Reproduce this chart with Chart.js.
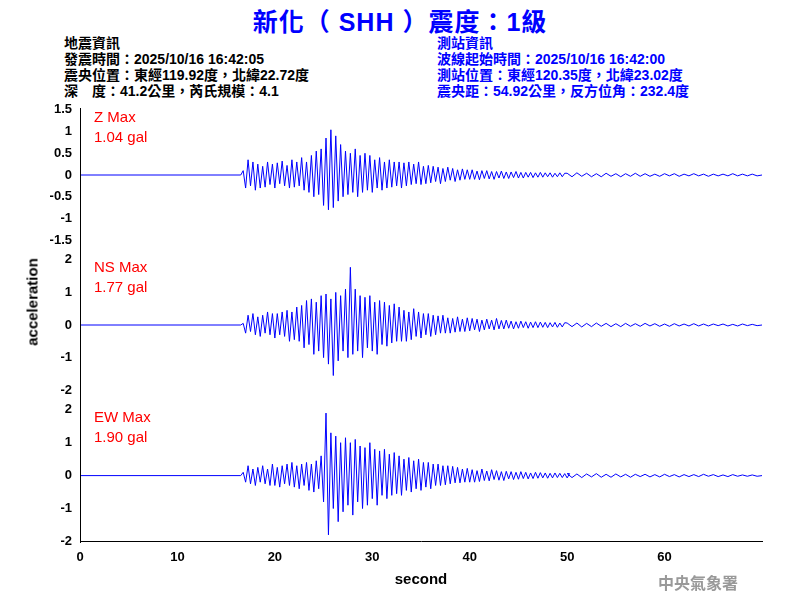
<!DOCTYPE html>
<html><head><meta charset="utf-8">
<script src="https://cdn.jsdelivr.net/npm/chart.js@4"></script>
<style>
body{margin:0;width:800px;height:600px;background:#fff;position:relative;overflow:hidden;font-family:"Liberation Sans",Arial,sans-serif}
.t{position:absolute;white-space:nowrap}
canvas{position:absolute;left:0}
.hd{font-family:"Liberation Sans","Noto Sans CJK TC",sans-serif;font-weight:bold;font-size:14px;line-height:16px}
.red{color:#f00;font-size:15px;line-height:20px}
</style></head><body>
<div class="t" style="left:0;width:800px;text-align:center;top:2px;color:#00f;font-weight:bold;font-size:25px;letter-spacing:1px;font-family:'Liberation Sans','Noto Sans CJK TC',sans-serif">新化（ SHH ）震度：1級</div>
<div class="t hd" style="left:64px;top:35px">地震資訊<br>發震時間：2025/10/16 16:42:05<br>震央位置：東經119.92度，北緯22.72度<br>深　度：41.2公里，芮氏規模：4.1</div>
<div class="t hd" style="left:437px;top:35px;color:#00f">測站資訊<br>波線起始時間：2025/10/16 16:42:00<br>測站位置：東經120.35度，北緯23.02度<br>震央距：54.92公里，反方位角：232.4度</div>
<canvas id="c1" width="800" height="150" style="top:100px"></canvas>
<canvas id="c2" width="800" height="150" style="top:250px"></canvas>
<canvas id="c3" width="800" height="200" style="top:400px"></canvas>
<div class="t" style="left:80px;top:108px;width:1px;height:435px;background:#000"></div>
<div class="t red" style="left:94px;top:107px">Z Max<br>1.04 gal</div>
<div class="t red" style="left:94px;top:257px">NS Max<br>1.77 gal</div>
<div class="t red" style="left:94px;top:407px">EW Max<br>1.90 gal</div>
<div class="t" style="left:32px;top:302px;transform:translate(-50%,-50%) rotate(-90deg);font-weight:bold;font-size:15px">acceleration</div>
<div class="t" style="left:658px;top:570px;color:#999;font-weight:bold;font-size:16px;font-family:'Noto Sans CJK TC',serif">中央氣象署</div>
<script>
const t0=16.75, dt=0.25, tailStart=50, tailDt=0.5;
const zDense=[0.1,-0.3,0.35,-0.25,0.3,-0.35,0.25,-0.3,0.2,-0.28,0.3,-0.22,0.25,
-0.3,0.28,-0.2,0.32,-0.25,0.22,-0.3,0.35,-0.28,0.3,-0.25,0.4,-0.35,0.3,-0.4,0.45,-0.5,0.55,-0.45,0.6,
-0.7,0.85,-0.8,1.04,-0.75,0.9,-0.6,0.7,
-0.5,0.55,-0.45,0.5,-0.4,0.6,-0.5,0.45,-0.4,0.5,-0.35,0.45,-0.4,0.35,-0.3,0.4,-0.35,0.3,-0.3,0.35,-0.28,0.3,-0.25,0.3,
-0.3,0.28,-0.25,0.3,-0.22,0.25,-0.2,0.3,-0.22,0.2,-0.2,0.22,-0.18,0.2,-0.15,0.18,-0.2,0.15,-0.15,0.18,-0.12,0.15,-0.15,0.12,-0.12,0.14,-0.1,0.12,
-0.1,0.12,-0.1,0.09,-0.11,0.1,-0.08,0.1,-0.09,0.08,-0.1,0.08,-0.07,0.09,-0.08,0.07,-0.08,0.07,-0.06,0.08,-0.07,0.06,-0.07,0.06,-0.05,0.06,-0.06,0.05,-0.05,0.06,-0.05,0.05,-0.04,0.05,-0.05,0.04,-0.04,0.05,-0.04,0.04];
const zTail=[0.04,-0.04,0.05,-0.03,0.04,-0.04,0.03,-0.04,0.04,-0.03,0.03,-0.04,0.03,-0.03,0.04,-0.03,0.03,-0.03,0.02,-0.03,0.03,-0.02,0.03,-0.03,0.02,-0.02,0.03,-0.02,0.02,-0.03,0.02,-0.02,0.02,-0.02,0.03,-0.02,0.02,-0.02,0.02,-0.02];
const nsDense=[0.05,-0.25,0.3,-0.2,0.35,-0.3,0.25,-0.35,0.3,-0.25,0.4,-0.3,0.35,
-0.4,0.35,-0.3,0.4,-0.35,0.45,-0.5,0.4,-0.45,0.55,-0.5,0.6,-0.7,0.75,-0.6,0.8,-0.9,0.7,-0.8,0.9,
-1.0,0.95,-1.2,0.8,-1.55,1.0,-1.1,0.9,-0.8,1.1,-1.0,1.77,
-0.9,1.1,-0.8,0.9,-1.0,0.85,-0.7,0.9,-0.8,0.7,-0.9,0.75,-0.6,0.7,-0.65,0.6,-0.55,0.65,-0.5,0.55,
-0.5,0.45,-0.5,0.4,-0.45,0.5,-0.35,0.4,-0.4,0.35,-0.3,0.35,-0.35,0.3,-0.3,0.28,-0.25,0.3,-0.25,0.22,-0.25,0.2,-0.22,0.25,-0.2,0.18,-0.2,0.22,
-0.18,0.2,-0.15,0.18,-0.2,0.15,-0.15,0.18,-0.12,0.15,-0.15,0.2,-0.12,0.14,-0.12,0.15,-0.1,0.12,-0.12,0.1,-0.1,0.12,-0.08,0.1,-0.1,0.09,-0.08,0.1,-0.08,0.09,-0.07,0.08,-0.08,0.07,-0.06,0.08,-0.07,0.06,-0.06,0.07];
const nsTail=[0.06,-0.05,0.06,-0.06,0.05,-0.05,0.06,-0.04,0.05,-0.05,0.04,-0.05,0.05,-0.04,0.04,-0.04,0.05,-0.03,0.04,-0.04,0.03,-0.04,0.04,-0.03,0.03,-0.03,0.04,-0.03,0.03,-0.03,0.03,-0.02,0.03,-0.03,0.02,-0.03,0.03,-0.02,0.02,-0.02];
const ewDense=[0.1,-0.2,0.3,-0.25,0.2,-0.3,0.25,-0.2,0.3,-0.25,0.2,-0.3,0.35,
-0.3,0.25,-0.35,0.3,-0.25,0.35,-0.3,0.4,-0.35,0.3,-0.4,0.35,-0.3,0.4,-0.45,0.35,-0.5,0.45,-0.4,0.6,
-0.8,1.9,-1.8,1.3,-1.0,1.2,-1.4,1.0,
-1.1,1.15,-0.9,1.0,-1.2,1.1,-0.8,0.9,-1.0,0.85,-0.9,1.0,-0.7,0.8,-0.9,0.75,-0.6,0.8,-0.7,0.65,-0.6,0.7,-0.55,0.6,
-0.6,0.5,-0.45,0.55,-0.5,0.45,-0.4,0.5,-0.45,0.4,-0.35,0.4,-0.4,0.35,-0.3,0.35,-0.3,0.3,-0.28,0.3,-0.25,0.28,-0.22,0.25,-0.22,0.2,-0.2,0.22,
-0.2,0.18,-0.2,0.15,-0.18,0.2,-0.15,0.14,-0.16,0.18,-0.12,0.15,-0.14,0.12,-0.15,0.13,-0.1,0.12,-0.12,0.1,-0.11,0.12,-0.09,0.1,-0.1,0.08,-0.09,0.1,-0.08,0.09,-0.07,0.08,-0.08,0.07,-0.07,0.08,-0.06,0.07,-0.06,0.06,-0.07,0.06];
const ewTail=[0.06,-0.06,0.05,-0.06,0.05,-0.04,0.06,-0.05,0.04,-0.05,0.05,-0.04,0.04,-0.05,0.04,-0.03,0.04,-0.04,0.03,-0.04,0.04,-0.03,0.03,-0.04,0.03,-0.03,0.03,-0.03,0.04,-0.02,0.03,-0.03,0.02,-0.03,0.03,-0.02,0.02,-0.02,0.02,-0.02];
const xTicks=[0,10,20,30,40,50,60];
function series(d,tail){const p=[{x:0,y:0},{x:16.5,y:0}];d.forEach((v,i)=>p.push({x:t0+i*dt,y:v}));tail.forEach((v,i)=>p.push({x:tailStart+i*tailDt,y:v}));p.push({x:70,y:0});return p;}
const F={family:"'Liberation Sans',Arial",size:13,weight:'bold'};
function mk(id,data,lim,step,showX){
 new Chart(document.getElementById(id),{type:'line',
 data:{datasets:[{data:data,borderColor:'#00f',borderWidth:1,pointRadius:0,tension:0}]},
 options:{responsive:false,animation:false,plugins:{legend:{display:false},tooltip:{enabled:false}},
 layout:{padding:{top:8,bottom:showX?7:8,right:38,left:0}},
 scales:{
  x:{type:'linear',min:0,max:70,display:showX,grid:{display:false,drawTicks:true,tickLength:6,color:'#000'},border:{color:'#000'},
     afterBuildTicks:a=>{a.ticks=xTicks.map(v=>({value:v}));},
     ticks:{color:'#000',font:F,maxRotation:0,padding:2},
     title:{display:true,text:'second',color:'#000',font:{family:"'Liberation Sans',Arial",size:15,weight:'bold'},padding:{top:4}}},
  y:{min:-lim,max:lim,grid:{display:false,tickLength:6,color:'#000'},border:{display:false},
     afterFit:a=>{a.width=80;},
     ticks:{stepSize:step,color:'#000',font:F,padding:2,callback:v=>String(Math.round(v*10)/10)}}}}});
}
mk('c1',series(zDense,zTail),1.5,0.5,false);
mk('c2',series(nsDense,nsTail),2,1,false);
mk('c3',series(ewDense,ewTail),2,1,true);
</script></body></html>
